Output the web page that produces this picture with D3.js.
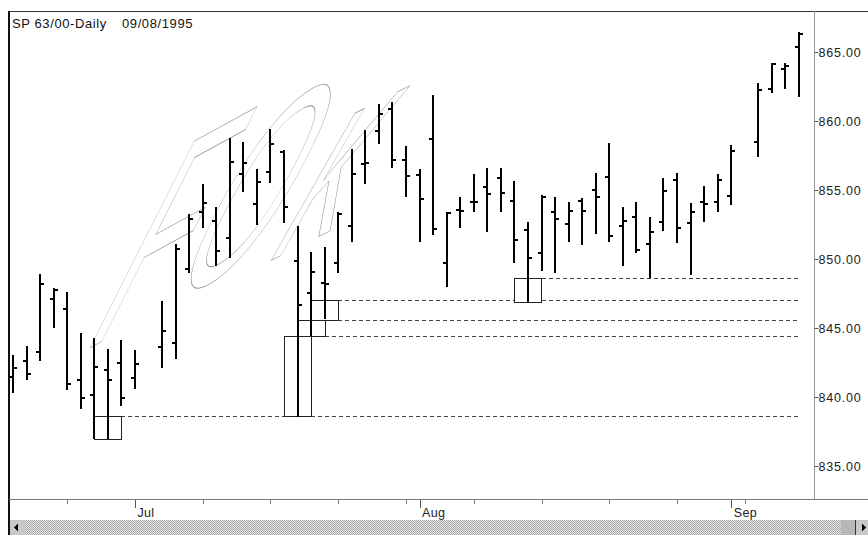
<!DOCTYPE html>
<html><head><meta charset="utf-8">
<script src="https://cdn.jsdelivr.net/npm/d3@7"></script>
<style>
body{margin:0;background:#fff;}
svg text{font-family:"Liberation Sans",Arial,sans-serif;}
</style></head><body>
<svg id="chart" width="868" height="535"></svg>
<script>
// ---------- DATA ----------
const titleSymbol = "SP 63/00-Daily";
const titleDate = "09/08/1995";
const watermarkLetters = ["F", "O", "K"];
const dates = [
 "1995-06-20","1995-06-21","1995-06-22","1995-06-23",
 "1995-06-26","1995-06-27","1995-06-28","1995-06-29","1995-06-30",
 "1995-07-03","1995-07-04","1995-07-05","1995-07-06","1995-07-07",
 "1995-07-10","1995-07-11","1995-07-12","1995-07-13","1995-07-14",
 "1995-07-17","1995-07-18","1995-07-19","1995-07-20","1995-07-21",
 "1995-07-24","1995-07-25","1995-07-26","1995-07-27","1995-07-28",
 "1995-07-31","1995-08-01","1995-08-02","1995-08-03","1995-08-04",
 "1995-08-07","1995-08-08","1995-08-09","1995-08-10","1995-08-11",
 "1995-08-14","1995-08-15","1995-08-16","1995-08-17","1995-08-18",
 "1995-08-21","1995-08-22","1995-08-23","1995-08-24","1995-08-25",
 "1995-08-28","1995-08-29","1995-08-30","1995-08-31","1995-09-01",
 "1995-09-04","1995-09-05","1995-09-06","1995-09-07","1995-09-08"
];
const open = [841.45,842.60,843.25,847.10,846.40,841.25,840.15,841.95,842.45,841.40,
 null,843.60,843.90,849.30,853.40,852.75,851.50,856.15,854.00,856.30,
 857.75,849.85,847.55,848.25,849.70,852.40,856.90,859.30,860.85,857.15,
 856.10,858.70,849.70,853.55,854.15,855.20,855.85,854.20,852.10,850.45,
 853.40,852.55,854.20,855.00,855.95,852.40,853.05,851.10,852.70,855.70,
 852.60,854.15,854.15,854.55,null,858.50,862.30,863.75,865.35];
const high = [843.05,843.70,848.90,847.90,847.60,844.65,844.30,843.50,844.15,843.40,
 null,846.95,851.10,853.25,855.45,853.75,858.75,858.50,856.50,859.40,
 857.90,852.40,850.50,850.85,853.40,857.95,859.35,861.25,861.40,858.20,
 856.50,861.90,853.40,854.50,856.15,856.60,856.60,855.65,852.70,854.65,
 854.50,854.15,854.40,856.25,858.40,853.75,854.15,853.05,855.85,856.25,
 854.05,855.30,856.15,858.25,null,862.75,864.20,864.20,866.45];
const low = [840.30,841.25,842.60,845.00,840.50,839.15,836.95,836.95,839.35,840.60,
 null,842.10,842.75,849.00,852.25,849.50,850.05,854.85,852.45,855.50,
 852.60,838.55,844.40,845.65,849.00,851.25,855.45,858.35,856.60,854.50,
 851.25,851.75,847.95,852.25,853.40,851.95,853.40,849.70,846.90,849.15,
 849.00,851.25,851.00,851.80,851.25,849.50,850.45,848.60,852.05,851.15,
 848.85,852.70,853.40,853.90,null,857.40,862.05,862.30,861.75];
const close = [842.10,841.65,848.20,847.75,840.95,839.95,842.15,841.25,839.95,842.40,
 null,844.80,850.70,852.90,854.05,850.60,857.05,856.95,855.60,858.35,
 853.75,846.65,849.05,848.20,853.25,856.15,856.95,860.50,857.15,856.00,
 854.35,852.15,853.35,853.50,854.15,854.70,854.80,851.40,850.05,854.50,
 852.90,853.50,853.50,854.50,851.65,852.75,850.65,851.95,854.95,852.25,
 853.40,854.00,855.70,857.85,null,862.25,864.15,864.00,866.30];

const priceTicks = [835, 840, 845, 850, 855, 860, 865];
const monthLabels = ["Jul", "Aug", "Sep"];
const monthTickDates = ["1995-07-03", "1995-08-01", "1995-09-01"];

// rectangles drawn around bars (centre date, top price, bottom price)
const boxDates = ["1995-06-29", "1995-07-19", "1995-07-20", "1995-07-21", "1995-08-11"];
const boxTop = [838.6, 844.4, 845.6, 847.0, 848.6];
const boxBottom = [836.95, 838.6, 844.4, 845.6, 846.9];

// dashed support levels (price, from date, to date)
const levelPrice = [838.6, 838.6, 844.4, 845.6, 847.0, 847.0, 848.6];
const levelFrom = ["1995-06-30","1995-07-20","1995-07-21","1995-07-24","1995-07-24","1995-08-14","1995-08-14"];
const levelTo = ["1995-07-18","1995-09-08","1995-09-08","1995-09-08","1995-08-10","1995-09-08","1995-09-08"];

// ---------- CHART ----------
const svg = d3.select("#chart");
const W = 868, H = 535;
const plotLeft = 9, plotTop = 11, axisX = 814, axisY = 499;

const x = d3.scalePoint().domain(dates).range([13, 799]);
const y = d3.scaleLinear().domain([835, 865]).range([466, 52]);
const step = x.step();

// watermark (outlined, slanted letters)
const wmTransforms = [
  "matrix(0.62,-0.34,-0.62,1.4,86,350)",
  "matrix(0.62,-0.34,-0.62,1.3,166,306)",
  "matrix(0.6,-0.3,-0.6,1.2,268,262)"
];
const wmSizes = [205, 205, 170];
const wm = svg.append("g").attr("fill", "none").attr("stroke", "#8c8c8c");
watermarkLetters.forEach((ch, i) => {
  wm.append("text")
    .attr("transform", wmTransforms[i])
    .attr("font-family", "Liberation Serif, serif")
    .attr("font-style", "italic")
    .attr("font-size", wmSizes[i])
    .attr("fill", "none")
    .attr("stroke", "#8c8c8c")
    .attr("stroke-width", 0.8)
    .attr("vector-effect", "non-scaling-stroke")
    .text(ch);
});

// frame
svg.append("line").attr("x1", plotLeft).attr("x2", W).attr("y1", plotTop + 0.5).attr("y2", plotTop + 0.5)
  .attr("stroke", "#333").attr("stroke-width", 1);
svg.append("line").attr("x1", plotLeft).attr("x2", plotLeft).attr("y1", plotTop).attr("y2", H)
  .attr("stroke", "#111").attr("stroke-width", 2);

// dashed levels
const levels = svg.append("g").attr("shape-rendering", "crispEdges");
levelPrice.forEach((p, i) => {
  levels.append("line")
    .attr("x1", x(levelFrom[i])).attr("x2", x(levelTo[i]))
    .attr("y1", Math.round(y(p)) + 0.5).attr("y2", Math.round(y(p)) + 0.5)
    .attr("stroke", "#444").attr("stroke-width", 1).attr("stroke-dasharray", "4,3");
});

// boxes
const boxes = svg.append("g").attr("shape-rendering", "crispEdges");
boxDates.forEach((d, i) => {
  const cx = x(d);
  const y0 = Math.round(y(boxTop[i])) + 0.5, y1 = Math.round(y(boxBottom[i])) + 0.5;
  boxes.append("rect")
    .attr("x", Math.round(cx - step) + 0.5).attr("y", y0)
    .attr("width", Math.round(step * 2)).attr("height", y1 - y0)
    .attr("fill", "none").attr("stroke", "#222").attr("stroke-width", 1);
});

// OHLC bars
const bars = svg.append("g").attr("shape-rendering", "crispEdges").attr("stroke", "#000").attr("stroke-width", 2);
dates.forEach((d, i) => {
  if (high[i] == null) return;
  const cx = Math.round(x(d));
  const g = bars.append("g");
  g.append("line").attr("x1", cx).attr("x2", cx).attr("y1", Math.round(y(high[i]))).attr("y2", Math.round(y(low[i])));
  g.append("line").attr("x1", cx - 4).attr("x2", cx).attr("y1", Math.round(y(open[i]))).attr("y2", Math.round(y(open[i])));
  g.append("line").attr("x1", cx).attr("x2", cx + 4).attr("y1", Math.round(y(close[i]))).attr("y2", Math.round(y(close[i])));
});

// right price axis
svg.append("line").attr("x1", axisX + 0.5).attr("x2", axisX + 0.5).attr("y1", plotTop).attr("y2", axisY)
  .attr("stroke", "#999").attr("stroke-width", 1);
const ya = svg.append("g").attr("transform", `translate(${axisX + 0.5},0)`)
  .call(d3.axisRight(y).tickValues(priceTicks).tickFormat(d3.format(".2f")).tickSize(4).tickPadding(0));
ya.select(".domain").remove();
ya.selectAll("line").attr("stroke", "#555");
ya.selectAll("text").attr("font-size", 12.5).attr("letter-spacing", 0.8).attr("fill", "#222")
  .attr("font-family", "Liberation Sans, Arial, sans-serif");

// bottom date axis
svg.append("line").attr("x1", plotLeft).attr("x2", W).attr("y1", axisY + 0.5).attr("y2", axisY + 0.5)
  .attr("stroke", "#777").attr("stroke-width", 1);
const parse = d3.timeParse("%Y-%m-%d");
const mondays = dates.filter(d => parse(d).getDay() === 1);
const wk = svg.append("g").attr("transform", `translate(0,${axisY + 0.5})`)
  .call(d3.axisBottom(x).tickValues(mondays).tickSize(4).tickFormat(""));
wk.select(".domain").remove();
wk.selectAll("line").attr("stroke", "#777").attr("shape-rendering", "crispEdges");
const mo = svg.append("g").attr("transform", `translate(0,${axisY + 0.5})`)
  .call(d3.axisBottom(x).tickValues(monthTickDates).tickSize(8)
    .tickFormat(d => monthLabels[monthTickDates.indexOf(d)]));
mo.select(".domain").remove();
mo.selectAll("line").attr("stroke", "#555").attr("shape-rendering", "crispEdges");
mo.selectAll("text").attr("text-anchor", "start").attr("dx", 2).attr("dy", 0).attr("y", 17)
  .attr("font-size", 12.5).attr("fill", "#222").attr("letter-spacing", 0.3)
  .attr("font-family", "Liberation Sans, Arial, sans-serif");

// title
svg.append("text").attr("x", 12).attr("y", 28).attr("font-size", 13).attr("letter-spacing", 0.6)
  .attr("fill", "#111").text(titleSymbol);
svg.append("text").attr("x", 122).attr("y", 28).attr("font-size", 13).attr("letter-spacing", 0.6)
  .attr("fill", "#111").text(titleDate);

// scrollbar
const defs = svg.append("defs");
const pat = defs.append("pattern").attr("id", "dots").attr("width", 2).attr("height", 2)
  .attr("patternUnits", "userSpaceOnUse");
pat.append("rect").attr("width", 2).attr("height", 2).attr("fill", "#e6e6e6");
pat.append("rect").attr("width", 1).attr("height", 1).attr("fill", "#a8a8a8");
pat.append("rect").attr("x", 1).attr("y", 1).attr("width", 1).attr("height", 1).attr("fill", "#a8a8a8");
const sb = svg.append("g").attr("shape-rendering", "crispEdges");
sb.append("rect").attr("x", 10).attr("y", 520).attr("width", W - 10).attr("height", 15).attr("fill", "url(#dots)");
sb.append("rect").attr("x", 10).attr("y", 520).attr("width", 15).attr("height", 15).attr("fill", "#c8c8c8");
sb.append("path").attr("d", "M14,527.5 L18,523.5 L18,531.5 Z").attr("fill", "#000");
sb.append("rect").attr("x", 841).attr("y", 520).attr("width", 14).attr("height", 15).attr("fill", "#b8b8b8");
sb.append("line").attr("x1", 855.5).attr("x2", 855.5).attr("y1", 520).attr("y2", 535).attr("stroke", "#333");
sb.append("rect").attr("x", 856).attr("y", 520).attr("width", 12).attr("height", 15).attr("fill", "#c8c8c8");
sb.append("path").attr("d", "M862,523.5 L866,527.5 L862,531.5 Z").attr("fill", "#000");
</script>
</body></html>
